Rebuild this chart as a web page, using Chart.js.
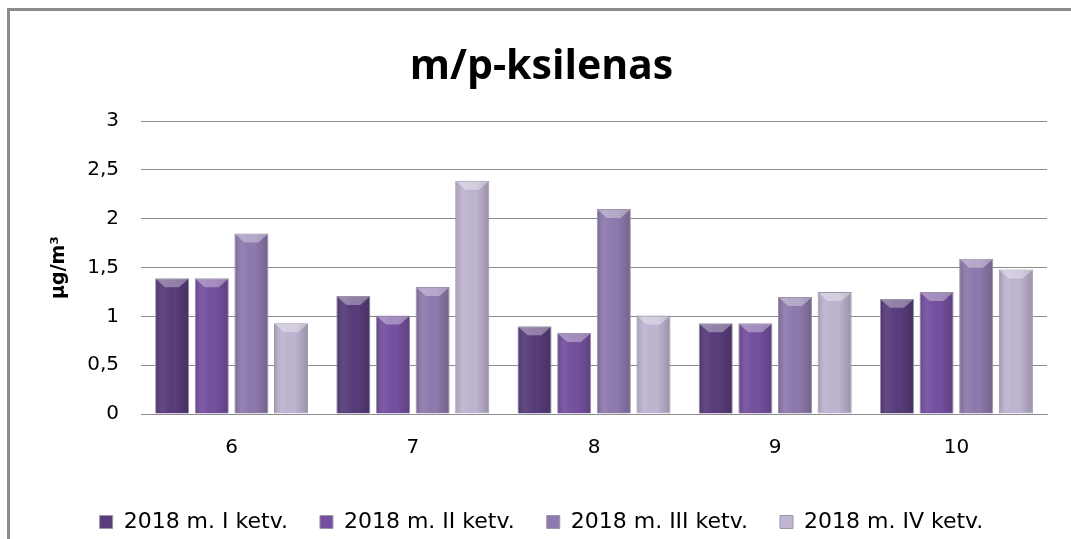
<!DOCTYPE html>
<html>
<head>
<meta charset="utf-8">
<script src="https://cdn.jsdelivr.net/npm/chart.js@4"></script>
<style>
  html, body { margin: 0; padding: 0; background: #fff; }
  #wrap { position: relative; width: 1071px; height: 539px; overflow: hidden; }
  #frame { position: absolute; left: 7px; top: 8px; right: -10px; bottom: -10px;
           border-left: 3px solid #8c8c8c; border-top: 3px solid #8c8c8c; }
  #chart { position: absolute; left: 0; top: 0; }
</style>
</head>
<body>
<div id="wrap">
  <div id="frame"></div>
  <canvas id="chart" width="1071" height="539"></canvas>
</div>
<script>
// duomenys
const categories = ["6", "7", "8", "9", "10"];
const seriesNames = ["2018 m. I ketv.", "2018 m. II ketv.", "2018 m. III ketv.", "2018 m. IV ketv."];
const q1 = [1.39, 1.21, 0.90, 0.93, 1.18];
const q2 = [1.39, 1.01, 0.83, 0.93, 1.25];
const q3 = [1.85, 1.30, 2.10, 1.20, 1.59];
const q4 = [0.93, 2.39, 1.01, 1.25, 1.48];
const yTicks = [0, 0.5, 1, 1.5, 2, 2.5, 3];

const colors = ["#583c7b", "#7550a0", "#8e7aae", "#c0b5d2"];

// stulpelių "3D" apšvietimas
const bevelPlugin = {
    id: "bevel",
    afterDatasetsDraw(chart) {
        const ctx = chart.ctx;
        chart.data.datasets.forEach((ds, i) => {
            const meta = chart.getDatasetMeta(i);
            meta.data.forEach(bar => {
                const w = bar.width;
                const left = bar.x - w / 2, right = bar.x + w / 2;
                const top = bar.y, base = bar.base;
                ctx.save();
                // šonų šešėlis
                const g = ctx.createLinearGradient(left, 0, right, 0);
                g.addColorStop(0, "rgba(0,0,0,0.18)");
                g.addColorStop(0.25, "rgba(255,255,255,0.06)");
                g.addColorStop(0.6, "rgba(0,0,0,0)");
                g.addColorStop(1, "rgba(0,0,0,0.2)");
                ctx.fillStyle = g;
                ctx.fillRect(left + 1, top + 1, w - 2, base - top - 2);
                // viršaus nuožulna
                ctx.beginPath();
                ctx.moveTo(left + 1, top + 1);
                ctx.lineTo(right - 1, top + 1);
                ctx.lineTo(right - w * 0.3, top + 9);
                ctx.lineTo(left + w * 0.3, top + 9);
                ctx.closePath();
                ctx.fillStyle = "rgba(255,255,255,0.35)";
                ctx.fill();
                ctx.restore();
            });
        });
    }
};

const datasets = [q1, q2, q3, q4].map((vals, i) => ({
    label: seriesNames[i],
    data: vals,
    backgroundColor: colors[i],
    borderColor: "#9b93a8",
    borderWidth: 1,
    barPercentage: 0.86,
    categoryPercentage: 0.875,
}));

const tickFont = { family: "DejaVu Sans", size: 20 };

new Chart(document.getElementById("chart"), {
    type: "bar",
    data: { labels: categories, datasets: datasets },
    plugins: [bevelPlugin],
    options: {
        responsive: false,
        animation: false,
        layout: { padding: { left: 36, right: 24, top: 0, bottom: -4 } },
        plugins: {
            title: {
                display: true,
                text: "m/p-ksilenas",
                color: "#000",
                font: { family: "Open Sans", size: 41, weight: "bold" },
                padding: { top: 43, bottom: 29 },
            },
            legend: {
                position: "bottom",
                labels: {
                    color: "#000",
                    font: { family: "DejaVu Sans", size: 22 },
                    boxWidth: 13,
                    boxHeight: 13,
                    padding: 32,
                },
            },
            tooltip: { enabled: false },
        },
        scales: {
            x: {
                grid: { display: false, drawTicks: false },
                border: { display: true, color: "#8c8c8c", width: 1 },
                ticks: { color: "#000", font: tickFont, padding: 22 },
                afterFit: axis => { axis.height = 65; },
            },
            y: {
                min: 0,
                max: 3,
                afterBuildTicks: axis => { axis.ticks = yTicks.map(v => ({ value: v })); },
                afterFit: axis => { axis.width = 105; },
                grid: { color: "#8c8c8c", drawTicks: false },
                border: { display: false },
                ticks: {
                    color: "#000",
                    font: tickFont,
                    padding: 22,
                    callback: v => String(v).replace(".", ","),
                },
                title: {
                    display: true,
                    text: "µg/m³",
                    color: "#000",
                    font: { family: "DejaVu Sans", size: 19, weight: "bold" },
                    padding: { top: 12, bottom: 0 },
                },
            },
        },
    },
});
</script>
</body>
</html>
